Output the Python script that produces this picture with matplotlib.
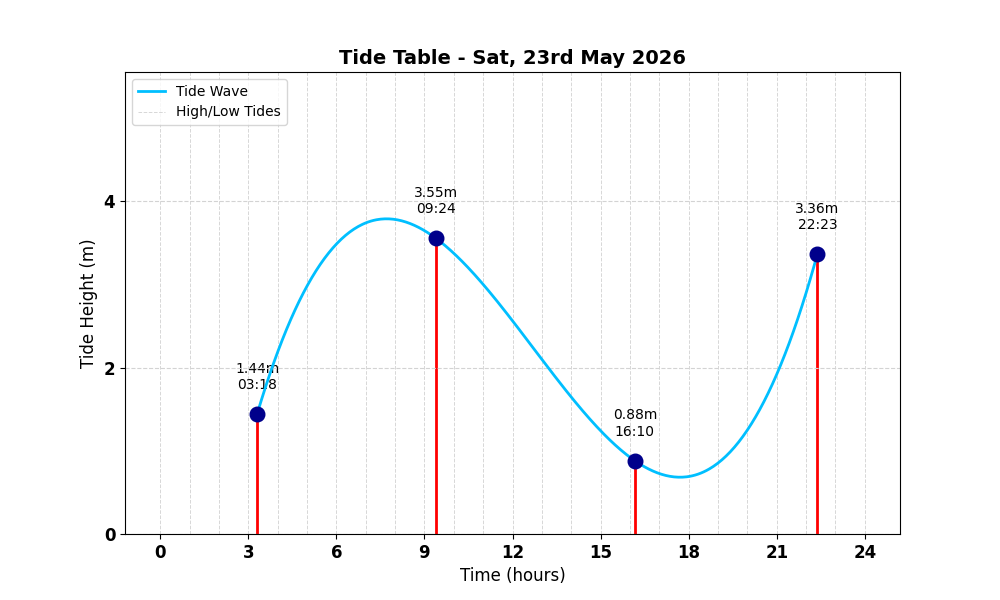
import numpy as np
import matplotlib
matplotlib.use("Agg")
import matplotlib.pyplot as plt

# Tide extremes (hours, metres)
tide_times = [3.3, 9.4, 16.0 + 10 / 60, 22.0 + 23 / 60]
tide_heights = [1.44, 3.55, 0.88, 3.36]
tide_labels = ["03:18", "09:24", "16:10", "22:23"]
hours = list(range(0, 25))

# smooth curve through the extremes (cubic interpolation)
coef = np.polyfit(tide_times, tide_heights, 3)
t = np.linspace(tide_times[0], tide_times[-1], 400)
wave = np.polyval(coef, t)

fig, ax = plt.subplots(figsize=(10, 6), dpi=100)

for i, h in enumerate(hours):
    ax.axvline(h, color="lightgray", linestyle="--", linewidth=0.7, alpha=0.9,
               label="High/Low Tides" if i == 0 else None, zorder=0)

ax.plot(t, wave, color="deepskyblue", linewidth=2, label="Tide Wave", zorder=2)

for x, y, lab in zip(tide_times, tide_heights, tide_labels):
    ax.vlines(x, 0, y, color="red", linewidth=2, zorder=1)
    ax.annotate(f"{y:.2f}m\n{lab}", (x, y), xytext=(0, 16),
                textcoords="offset points", ha="center", va="bottom", fontsize=10, zorder=1)
ax.scatter(tide_times, tide_heights, s=110, color="darkblue", zorder=3)

ax.set_xlim(-1.2, 25.2)
ax.set_ylim(0, max(tide_heights) + 2)
ax.set_xticks(range(0, 25, 3))
ax.set_yticks([0, 2, 4])
for lbl in ax.get_xticklabels() + ax.get_yticklabels():
    lbl.set_fontweight("bold")
    lbl.set_fontsize(12)
ax.grid(axis="y", color="lightgray", linestyle="--", linewidth=0.8)

ax.set_title("Tide Table - Sat, 23rd May 2026", fontsize=14, fontweight="bold")
ax.set_xlabel("Time (hours)", fontsize=12)
ax.set_ylabel("Tide Height (m)", fontsize=12)

handles, labels = ax.get_legend_handles_labels()
order = [labels.index("Tide Wave"), labels.index("High/Low Tides")]
ax.legend([handles[i] for i in order], [labels[i] for i in order], loc="upper left")

plt.savefig("out.png")
